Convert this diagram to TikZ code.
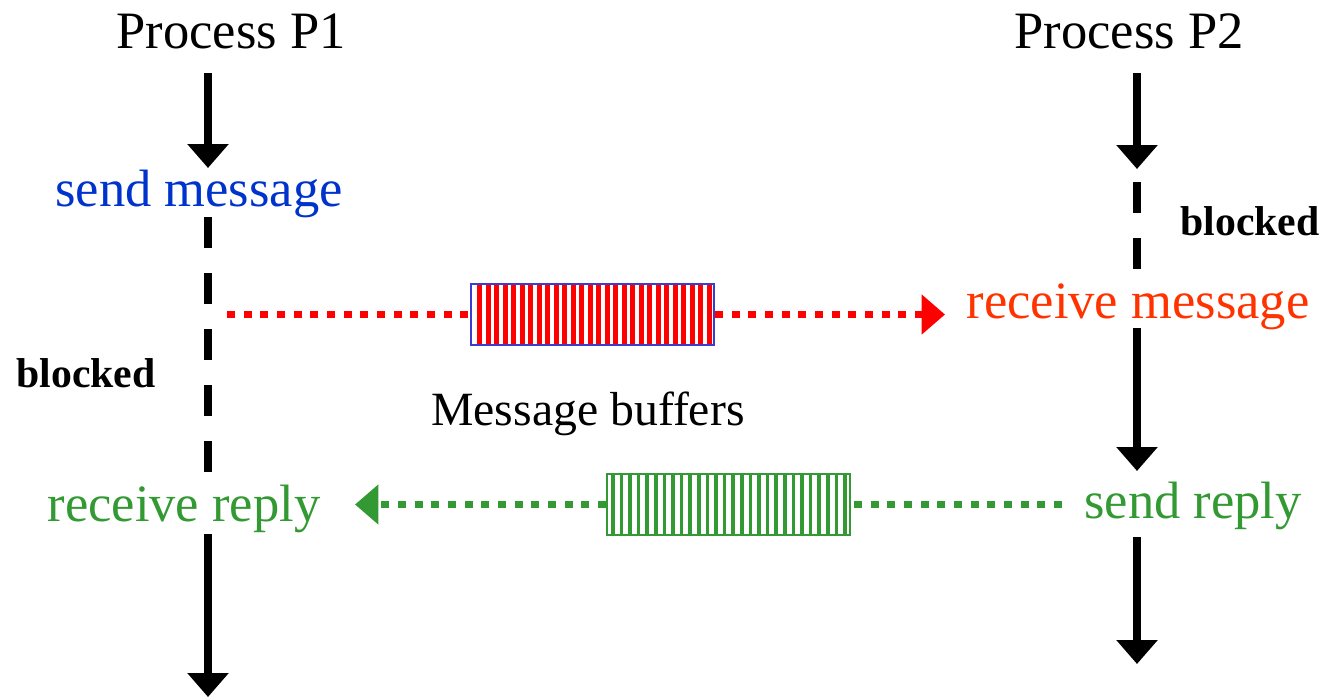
\documentclass[tikz,border=0pt]{standalone}
\usepackage{fontspec}
\setmainfont{Liberation Serif}
\usetikzlibrary{arrows.meta}
\definecolor{tblue}{RGB}{0,51,204}
\definecolor{torange}{RGB}{255,51,0}
\definecolor{tred}{RGB}{255,0,0}
\definecolor{tgreen}{RGB}{51,153,51}
\definecolor{bborder}{RGB}{60,60,210}
\tikzset{
  lbl/.style={inner sep=0pt, anchor=base, font=\fontsize{39.4pt}{47pt}\selectfont},
  blk/.style={inner sep=0pt, anchor=base, font=\fontsize{31.3pt}{37pt}\selectfont\bfseries},
  flow/.style={line width=6pt, -{Triangle[width=30pt,length=18pt]}},
  waitline/.style={line width=6pt, dash pattern=on 23.25pt off 18.75pt},
  msgdot/.style={line width=5.5pt, dash pattern=on 6pt off 6.5pt},
  msghead/.style={-{Triangle[width=29pt,length=17.5pt]}},
  buffer/.style={inner sep=0pt, minimum width=182.25pt, minimum height=45.75pt, line width=1.5pt}
}
\begin{document}
\begin{tikzpicture}[x=0.75pt,y=-0.75pt]
\useasboundingbox (0,0) rectangle (1324,697);
% texts
\node[lbl] (p1) at (231,48) {Process P1};
\node[lbl] (p2) at (1129,48) {Process P2};
\node[lbl, text=tblue] (sm) at (199,206) {send message};
\node[lbl, text=torange] (rm) at (1138,318) {receive message};
\node[lbl, text=tgreen] (rr) at (184,521) {receive reply};
\node[lbl, text=tgreen] (sr) at (1193,518) {send reply};
\node[inner sep=0pt, anchor=base, font=\fontsize{35.8pt}{43pt}\selectfont] (mb) at (588,425) {Message buffers};
\node[blk] (b2) at (1250,235) {blocked};
\node[blk] (b1) at (86,387) {blocked};
% coordinates on the time lines
\coordinate (a1s) at (208,73);  \coordinate (a1e) at (208,168);
\coordinate (d1s) at (208,217); \coordinate (d1e) at (208,472);
\coordinate (a3s) at (208,534); \coordinate (a3e) at (208,697);
\coordinate (a2s) at (1137,73); \coordinate (a2e) at (1137,169);
\coordinate (d2s) at (1137,182); \coordinate (d2e) at (1137,270);
\coordinate (a4s) at (1137,328); \coordinate (a4e) at (1137,471);
\coordinate (a5s) at (1137,537); \coordinate (a5e) at (1137,664);
% time lines
\draw[flow] (a1s) -- (a1e);
\draw[waitline] (d1s) -- (d1e);
\draw[flow] (a3s) -- (a3e);
\draw[flow] (a2s) -- (a2e);
\draw[waitline] (d2s) -- (d2e);
\draw[flow] (a4s) -- (a4e);
\draw[flow] (a5s) -- (a5e);
% buffers
\foreach \i in {0,...,27} \fill[tred] ({477+\i*8.5},285) rectangle ++(5,59);
\node[buffer, draw=bborder] (rbuf) at (592.5,314.5) {};
\foreach \i in {0,...,27} \fill[tgreen] ({611+\i*8.6},475) rectangle ++(3.6,59);
\node[buffer, draw=tgreen] (gbuf) at (728.5,504.5) {};
% message arrows
\coordinate (rs) at (227,314.5);
\coordinate (re) at (945,314.5);
\draw[msgdot, tred] (rs) -- (rbuf.west);
\draw[msgdot, tred, msghead] (rbuf.east) -- (re);
\coordinate (gs) at (1062,504.5);
\coordinate (ge) at (355,504.5);
\draw[msgdot, tgreen] (gs) -- (gbuf.east);
\draw[msgdot, tgreen, msghead] (gbuf.west) -- (ge);
\end{tikzpicture}
\end{document}
